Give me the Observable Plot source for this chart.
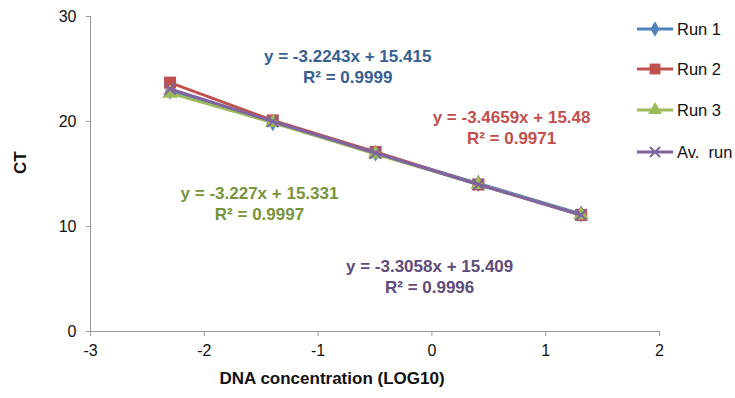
<!DOCTYPE html>
<html>
<head>
<meta charset="utf-8">
<script src="https://cdn.jsdelivr.net/npm/d3@7"></script>
<script src="https://cdn.jsdelivr.net/npm/@observablehq/plot@0.6"></script>
<style>
  body { margin: 0; background: white; }
  #wrap { position: relative; width: 735px; height: 398px; font-family: "Liberation Sans", Arial, sans-serif; }
  #legend { position: absolute; left: 637px; top: 0; }
  .item { position: absolute; left: 0; display: flex; align-items: center; white-space: nowrap; font-size: 16.5px; color: #111; }
  .item svg { display: block; }
  .item span { margin-left: 4px; }
</style>
</head>
<body>
<div id="wrap"><div id="legend"></div></div>
<script>
// Data
const concLog = [-2.301, -1.398, -0.495, 0.408, 1.311];
const run1 = [22.9, 19.9, 17.0, 14.1, 11.2];
const run2 = [23.7, 20.1, 17.1, 14.0, 11.1];
const run3 = [22.7, 19.9, 16.9, 14.0, 11.1];
const avRun = [23.1, 20.0, 17.0, 14.0, 11.1];
const seriesNames = ["Run 1", "Run 2", "Run 3", "Av.  run"];
const xTicks = [-3, -2, -1, 0, 1, 2];
const yTicks = [0, 10, 20, 30];
const equations = [
  "y = -3.2243x + 15.415\nR² = 0.9999",
  "y = -3.4659x + 15.48\nR² = 0.9971",
  "y = -3.227x + 15.331\nR² = 0.9997",
  "y = -3.3058x + 15.409\nR² = 0.9996"
];
// annotation anchor points (data units)
const eqX = [-0.74, 0.70, -1.515, -0.02];
const eqY = [25.29, 19.48, 12.29, 5.29];

const lineColors = ["#4F81BD", "#C0504D", "#9BBB59", "#8064A2"];
const textColors = ["#376092", "#C0504D", "#77933C", "#604A7B"];
const symbols = ["diamond", "square", "triangle", "times"];
const radii = [5.2, 6.8, 5.8, 5.2];

const allSeries = [run1, run2, run3, avRun];
const rows = [];
allSeries.forEach((vals, i) => vals.forEach((v, j) => rows.push({series: seriesNames[i], idx: i, x: concLog[j], y: v})));

const marks = [
  Plot.ruleX([-3], {stroke: "#999", strokeWidth: 1}),
  Plot.ruleY([0], {stroke: "#999", strokeWidth: 1}),
  Plot.axisX({ticks: xTicks, tickFormat: d => String(d), tickSize: 5, tickPadding: 8, stroke: "#999", fill: "#111", fontSize: 16, label: null}),
  Plot.axisY({ticks: yTicks, tickFormat: d => String(d), tickSize: 4, tickPadding: 10, stroke: "#999", fill: "#111", fontSize: 16, label: null}),
];
seriesNames.forEach((name, i) => {
  const d = rows.filter(r => r.idx === i);
  marks.push(Plot.line(d, {x: "x", y: "y", stroke: lineColors[i], strokeWidth: 3}));
  if (symbols[i] === "times") {
    marks.push(Plot.dot(d, {x: "x", y: "y", symbol: "times", r: radii[i], stroke: lineColors[i], strokeWidth: 2}));
  } else {
    marks.push(Plot.dot(d, {x: "x", y: "y", symbol: symbols[i], r: radii[i], fill: lineColors[i], stroke: "none"}));
  }
});
marks.push(Plot.text(equations.map((t, i) => ({t, i, x: eqX[i], y: eqY[i]})), {
  x: "x", y: "y", text: "t", fill: d => textColors[d.i], fontWeight: "bold", fontSize: 17, lineHeight: 1.24, textAnchor: "middle", lineAnchor: "middle"
}));
marks.push(Plot.text(["CT"], {frameAnchor: "left", rotate: -90, dx: -70, fontWeight: "bold", fontSize: 17, fill: "#111"}));
marks.push(Plot.text(["DNA concentration (LOG10)"], {frameAnchor: "bottom", dx: -43, dy: 52, fontWeight: "bold", fontSize: 17, fill: "#111"}));

const chart = Plot.plot({
  width: 735, height: 398,
  marginTop: 16, marginBottom: 67, marginLeft: 90, marginRight: 76,
  style: {fontFamily: "Liberation Sans, Arial, sans-serif", fontSize: "16px", background: "white", overflow: "visible"},
  x: {domain: [-3, 2], axis: null},
  y: {domain: [0, 30], axis: null},
  marks
});
const wrap = document.getElementById("wrap");
wrap.insertBefore(chart, wrap.firstChild);

// Legend
const legend = document.getElementById("legend");
const rowTop = [29, 69, 110, 152];
seriesNames.forEach((name, i) => {
  const div = document.createElement("div");
  div.className = "item";
  div.style.top = (rowTop[i] - 10) + "px";
  const s = d3.create("svg").attr("width", 36).attr("height", 20);
  s.append("line").attr("x1", 0).attr("x2", 36).attr("y1", 10).attr("y2", 10).attr("stroke", lineColors[i]).attr("stroke-width", 3);
  const symMap = {diamond: d3.symbolDiamond, square: d3.symbolSquare, triangle: d3.symbolTriangle, times: d3.symbolTimes};
  const r = radii[i] * 0.9;
  const p = s.append("path").attr("transform", "translate(18,10)").attr("d", d3.symbol(symMap[symbols[i]], Math.PI * r * r)());
  if (symbols[i] === "times") p.attr("fill", "none").attr("stroke", lineColors[i]).attr("stroke-width", 2);
  else p.attr("fill", lineColors[i]);
  div.appendChild(s.node());
  const sp = document.createElement("span");
  sp.textContent = name;
  sp.style.whiteSpace = "pre";
  div.appendChild(sp);
  legend.appendChild(div);
});
</script>
</body>
</html>
